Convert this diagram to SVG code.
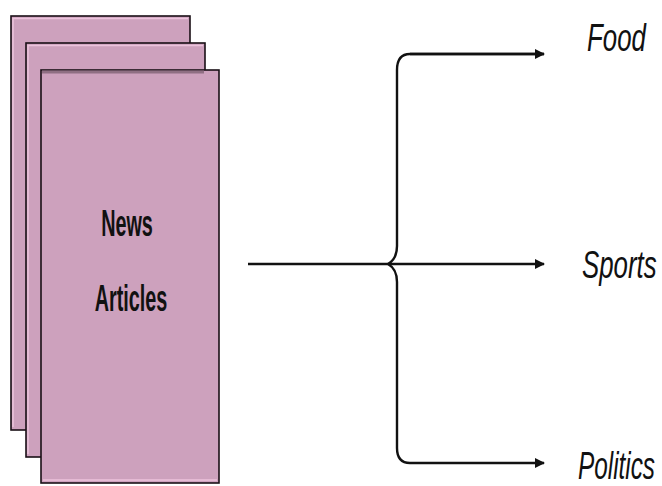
<svg xmlns="http://www.w3.org/2000/svg" width="662" height="486" viewBox="0 0 662 486">
<style>
.page{fill:#cda1bd;stroke:#1a1016;stroke-width:1.6}
.hl{fill:none;stroke:#ecc3dc;stroke-width:1.5}
.conn{fill:none;stroke:#111;stroke-width:2.4}
.lbl{font-family:"Liberation Sans",Arial,sans-serif;font-size:36px;font-weight:bold;fill:#111}
.cat{font-family:"Liberation Sans",Arial,sans-serif;font-size:38px;font-style:italic;fill:#111}
</style>
<defs>
<marker id="ah" viewBox="0 0 10 10" refX="9" refY="5" markerWidth="4.2" markerHeight="5" orient="auto" markerUnits="strokeWidth">
<path d="M0,0 L10,5 L0,10 z" fill="#111"/>
</marker>
</defs>
<g id="page1">
<rect class="page" x="11" y="16" width="179" height="414"/>
<path class="hl" d="M13 427 V18.5 H188"/>
</g>
<g id="page2">
<rect class="page" x="26" y="43" width="179" height="414"/>
<path class="hl" d="M28 454 V45.5 H203"/>
</g>
<g id="news-articles">
<rect class="page" x="41" y="70" width="178" height="413"/>
<path d="M42 72 H204" stroke="#8f6f83" stroke-width="3" fill="none"/>
<path class="hl" d="M43 480 H217"/>
<text class="lbl" text-anchor="middle" transform="translate(127 236) scale(0.55 1)">News</text>
<text class="lbl" text-anchor="middle" transform="translate(131 311) scale(0.55 1)">Articles</text>
</g>
<g id="connectors">
<path class="conn" d="M248 264 H544" marker-end="url(#ah)"/>
<path class="conn" d="M544 54 H410 Q397 54 397 70 V246 Q397 259 388 264 Q397 269 397 282 V448 Q397 463 410 463 H544" marker-end="url(#ah)"/>
<path class="conn" d="M410 54 H544" marker-end="url(#ah)"/>
</g>
<g id="food"><text class="cat" transform="translate(587 51) scale(0.68 1)">Food</text></g>
<g id="sports"><text class="cat" transform="translate(582 278) scale(0.68 1)">Sports</text></g>
<g id="politics"><text class="cat" font-size="36" transform="translate(578 479) scale(0.64 1)">Politics</text></g>
</svg>
